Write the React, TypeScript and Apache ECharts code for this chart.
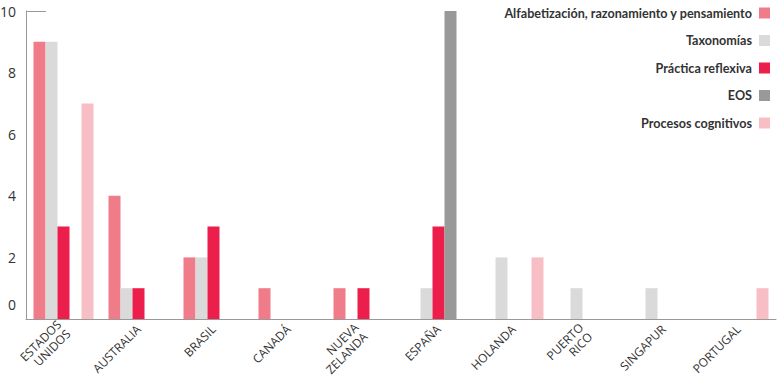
import React, { useEffect, useRef } from "react";
import * as echarts from "echarts";

const countries = [
  "ESTADOS\nUNIDOS",
  "AUSTRALIA",
  "BRASIL",
  "CANADÁ",
  "NUEVA\nZELANDA",
  "ESPAÑA",
  "HOLANDA",
  "PUERTO\nRICO",
  "SINGAPUR",
  "PORTUGAL",
];

const seriesNames = [
  "Alfabetización, razonamiento y pensamiento",
  "Taxonomías",
  "Práctica reflexiva",
  "EOS",
  "Procesos cognitivos",
];

const seriesColors = ["#F07B89", "#DADADA", "#EC1E4C", "#999999", "#F8BEC6"];

const alfabetizacion = [9, 4, 2, 1, 1, null, null, null, null, null];
const taxonomias = [9, 1, 2, null, null, 1, 2, 1, 1, null];
const practicaReflexiva = [3, 1, 3, null, 1, 3, null, null, null, null];
const eos = [null, null, null, null, null, 10, null, null, null, null];
const procesosCognitivos = [7, null, null, null, null, null, 2, null, null, 1];

const seriesValues = [alfabetizacion, taxonomias, practicaReflexiva, eos, procesosCognitivos];

export default function App() {
  const ref = useRef<HTMLDivElement>(null);

  useEffect(() => {
    if (!ref.current) return;
    const chart = echarts.init(ref.current, null, { renderer: "svg" });
    const gridLeft = 26;
    const gridTop = 11;
    const categoryData = countries.map((c, i) => {
      if (c.indexOf("\n") < 0) return c;
      return { value: c, textStyle: { padding: i === 0 ? [24, 0, 0, 0] : [2, 4, 0, 0] } };
    });
    chart.setOption({
      animation: false,
      backgroundColor: "#ffffff",
      textStyle: { fontFamily: "Open Sans" },
      grid: {
        left: gridLeft,
        right: 4,
        top: gridTop,
        bottom: 59,
        containLabel: false,
        outerBoundsMode: "none",
      },
      legend: {
        orient: "vertical",
        right: 5,
        top: 1.5,
        align: "right",
        itemWidth: 11,
        itemHeight: 11,
        itemGap: 14.5,
        icon: "rect",
        selectedMode: false,
        textStyle: { fontFamily: "Lato", fontWeight: "bold", fontSize: 12.6, color: "#333333", padding: [0, 2, 0, 0] },
        data: seriesNames,
      },
      xAxis: {
        type: "category",
        data: categoryData,
        boundaryGap: true,
        axisLine: { lineStyle: { color: "#999999", width: 1 } },
        axisTick: { inside: true, length: 7, lineStyle: { color: "#777777" } },
        axisLabel: {
          rotate: 45,
          interval: 0,
          margin: 8,
          fontSize: 12,
          color: "#333333",
          fontFamily: "Open Sans",
          lineHeight: 13,
          hideOverlap: false,
        },
      },
      yAxis: {
        type: "value",
        min: 0,
        max: 10,
        interval: 2,
        axisLine: { show: true, lineStyle: { color: "#999999", width: 1 } },
        axisTick: { show: false },
        splitLine: { show: false },
        axisLabel: {
          margin: 10,
          fontSize: 14,
          color: "#333333",
          fontFamily: "Open Sans",
          lineHeight: 15,
          formatter: (v: number) => (v === 0 ? "0\n \n " : String(v)),
        },
      },
      graphic: [
        {
          type: "line",
          shape: { x1: gridLeft, y1: gridTop + 0.5, x2: gridLeft + 20, y2: gridTop + 0.5 },
          style: { stroke: "#999999", lineWidth: 1 },
        },
      ],
      series: seriesNames.map((name, i) => ({
        name,
        type: "bar",
        data: seriesValues[i],
        barWidth: 12,
        barGap: "0%",
        itemStyle: { color: seriesColors[i] },
      })),
    });
    return () => chart.dispose();
  }, []);

  return (
    <div
      ref={ref}
      style={{ position: "fixed", left: 0, top: 0, width: 780, height: 378 }}
    />
  );
}
